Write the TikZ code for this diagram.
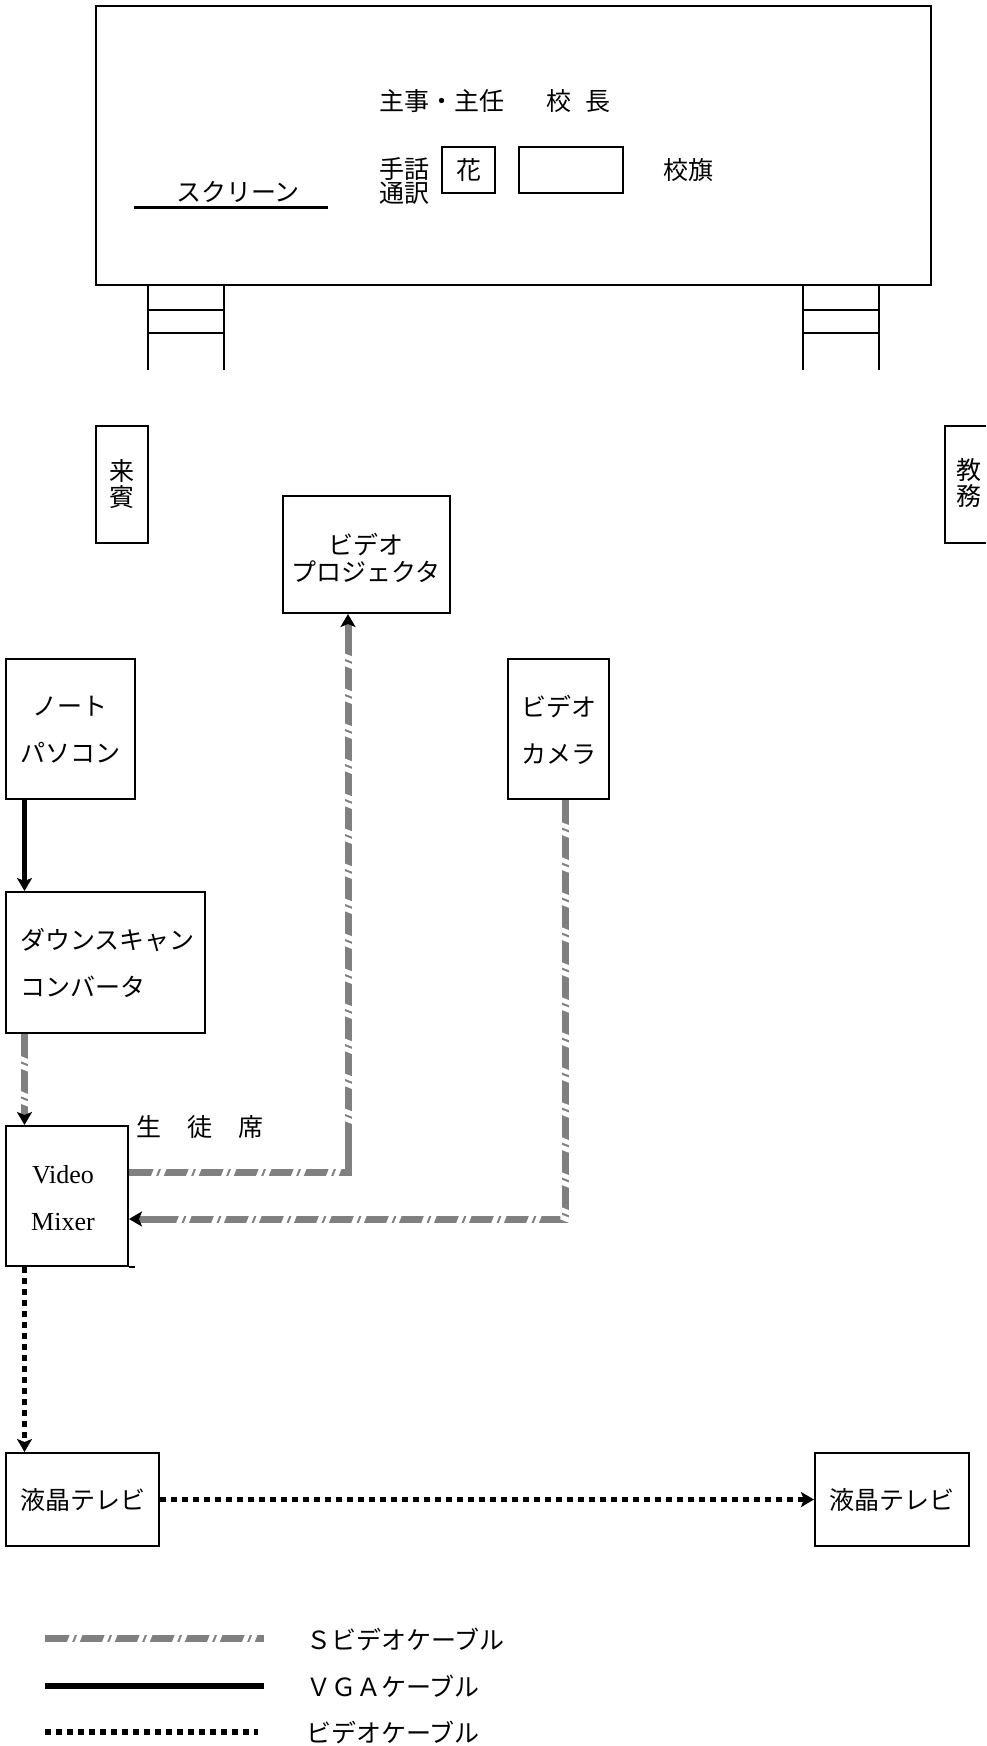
\documentclass[tikz,border=0pt]{standalone}
\usepackage{fontspec}
\setmainfont{Liberation Serif}
\newfontfamily\jpfam{Noto Sans CJK JP}
\usetikzlibrary{arrows.meta,fit,decorations.markings}
\newcommand\jpsz[1]{\jpfam\fontsize{12.5pt}{#1}\selectfont}
\definecolor{svgray}{RGB}{128,128,128}
\begin{document}
\begin{tikzpicture}[x=0.5pt,y=-0.5pt,
  box/.style={draw,line width=1pt,inner sep=0pt},
  txt/.style={inner sep=0pt,font=\jpsz{15pt},align=center},
  sv/.style={line width=3.5pt,draw=svgray,postaction={decorate},
    decoration={markings,mark=between positions 0.5pt and 1 step 17.5pt with {
      \pgfmathtruncatemacro\svok{(\pgfkeysvalueof{/pgf/decoration/mark info/distance from start} < \pgfdecoratedpathlength - #1) ? 1 : 0}
      \ifnum\svok=1
      \fill[white] (10.4pt,-2.3pt) -- (12.9pt,-2.3pt) -- (14.7pt,2.3pt) -- (12.2pt,2.3pt) -- cycle;
      \fill[white] (14.1pt,-2.3pt) -- (16.7pt,-2.3pt) -- (18.5pt,2.3pt) -- (15.9pt,2.3pt) -- cycle;
      \fi}}},
  sv/.default={27},
  vga/.style={line width=2.6pt,draw=black},
  vid/.style={line width=2.8pt,draw=black,dash pattern=on 3.2pt off 2.3pt},
  tip/.style={-{Stealth[length=6.5pt,width=7.5pt,inset=1.5pt,black]}},
  plain/.style={line width=1pt}
]
\useasboundingbox (0,0) rectangle (986,1746);

% stage
\node[box,fit={(96,6) (931,285)}] (stage) {};
\node[txt,anchor=west] (officers) at (379,101) {主事・主任\hspace{21pt}校\hspace{7pt}長};
\node[txt,anchor=west,font=\jpsz{11pt}] (interp) at (379,181) {手話\\通訳};
\node[box,fit={(442,147) (495,193)}] (flower) {};
\node[txt] (flowerlbl) at (flower.center) {花};
\node[box,fit={(519,147) (623,193)}] (podium) {};
\node[txt,anchor=west] (flag) at (663,170) {校旗};
\node[txt] (screenlbl) at (238,192) {スクリーン};
\coordinate (scrA) at (134,207);
\coordinate (scrB) at (328,207);
\draw[line width=1.5pt] (scrA) -- (scrB);

% stairs
\foreach \x in {148,224,803,879} \draw[plain] (\x,285) -- (\x,370);
\foreach \y in {310,333} {\draw[plain] (148,\y) -- (224,\y); \draw[plain] (803,\y) -- (879,\y);}

% side seats
\node[box,fit={(96,426) (148,543)}] (guest) {};
\node[txt,font=\jpsz{13pt}] (guestlbl) at (guest.center) {来\\賓};
\draw[plain] (986,426) -- (945,426) -- (945,543) -- (986,543);
\node[txt,font=\jpsz{13pt}] (staff) at (969,483) {教\\務};

% equipment
\node[box,fit={(283,496) (450,613)}] (proj) {};
\node[txt,font=\jpsz{13.5pt}] (projlbl) at (366,558) {ビデオ\\プロジェクタ};
\node[box,fit={(6,659) (135,799)}] (pc) {};
\node[txt,font=\jpsz{23.5pt}] (pclbl) at (70,730) {ノート\\パソコン};
\node[box,fit={(508,659) (609,799)}] (cam) {};
\node[txt,font=\jpsz{23.5pt}] (camlbl) at (559,730) {ビデオ\\カメラ};
\node[box,fit={(6,892) (205,1033)}] (dsc) {};
\node[txt,font=\jpsz{23.5pt},align=left,anchor=west] (dsclbl) at (20,963) {ダウンスキャン\\コンバータ};
\node[box,fit={(6,1126) (128,1266)}] (mixer) {};
\node[txt,font=\fontsize{13pt}{23.5pt}\selectfont] (mixlbl) at (63,1198) {Video\\Mixer};
\draw[plain] (mixer.south east) -- ++(6,0);
\node[txt,anchor=west] (seats) at (136,1127) {生\hspace{13pt}徒\hspace{13pt}席};
\node[box,fit={(6,1453) (159,1546)}] (tv1) {};
\node[txt] (tv1lbl) at (tv1.center) {液晶テレビ};
\node[box,fit={(815,1453) (969,1546)}] (tv2) {};
\node[txt] (tv2lbl) at (tv2.center) {液晶テレビ};

% connectors
\coordinate (xL) at (24.5,0);
\coordinate (xP) at (348,0);
\coordinate (xC) at (565,0);
\coordinate (yP) at (0,1172);
\coordinate (yC) at (0,1219);

\draw[vga,tip] (pc.south -| xL) -- (dsc.north -| xL);
\draw[sv,tip] (dsc.south -| xL) -- (mixer.north -| xL);
\draw[sv,tip] (mixer.east |- yP) -- (xP |- yP) -- (proj.south -| xP);
\draw[sv,tip] (cam.south -| xC) -- (xC |- yC) -- (mixer.east |- yC);
\draw[vid,tip] (mixer.south -| xL) -- (tv1.north -| xL);
\draw[vid,tip] (tv1.east) -- (tv2.west);

% legend
\coordinate (l1a) at (45,1638);
\coordinate (l1b) at (264,1638);
\coordinate (l2a) at (45,1686);
\coordinate (l2b) at (264,1686);
\coordinate (l3a) at (45,1732);
\coordinate (l3b) at (258,1732);
\draw[sv=14] (l1a) -- (l1b);
\draw[vga] (l2a) -- (l2b);
\draw[vid] (l3a) -- (l3b);
\node[txt,anchor=west] (l1t) at (306,1639) {Ｓビデオケーブル};
\node[txt,anchor=west] (l2t) at (306,1686) {ＶＧＡケーブル};
\node[txt,anchor=west] (l3t) at (306,1732) {ビデオケーブル};
\end{tikzpicture}
\end{document}
